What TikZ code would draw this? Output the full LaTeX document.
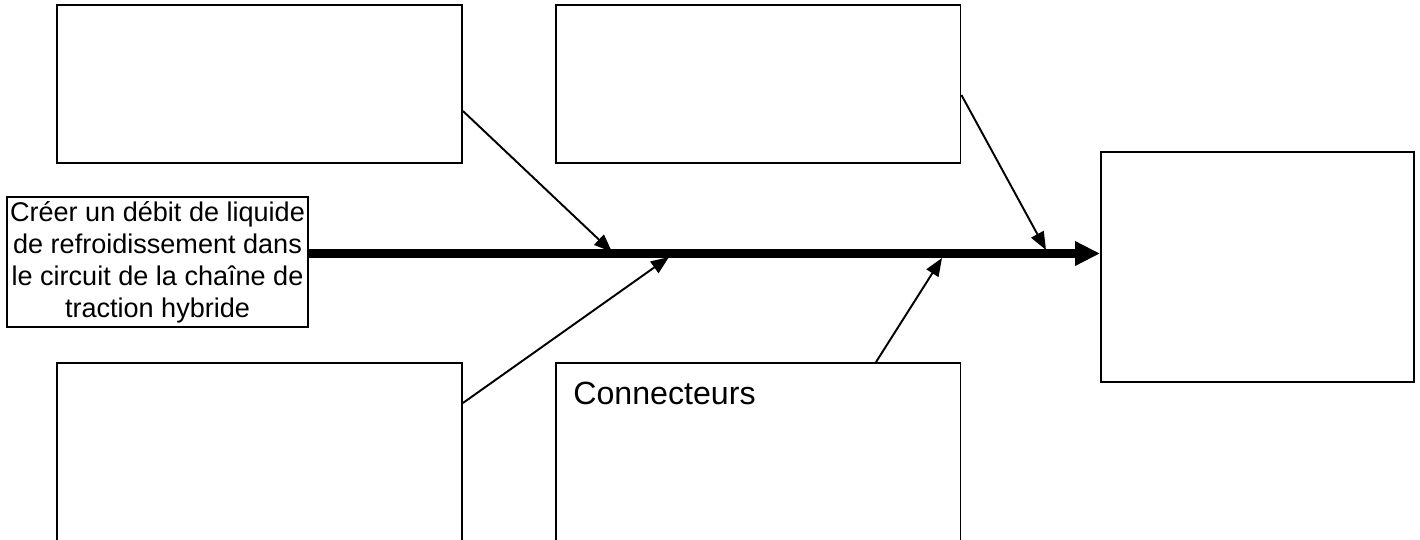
\documentclass[tikz,border=0pt]{standalone}
\usepackage{fontspec}
\setmainfont{Liberation Sans}
\usetikzlibrary{arrows.meta}

\begin{document}
\begin{tikzpicture}[x=0.02cm,y=-0.02cm,
  cause/.style={draw,line width=1.1pt,minimum width=8.1cm,minimum height=3.16cm,inner sep=0pt},
  feed/.style={line width=1.1pt,-{Triangle[length=0.36cm,width=0.28cm]}}]
\clip (0,0) rectangle (1420,540);
% boxes
\node[cause] (tl) at (259.5,84) {};
\node[cause] (tm) at (758,84) {};
\node[cause,minimum height=5.14cm] (bl) at (259.5,491.5) {};
\node[cause,minimum height=5.14cm] (bm) at (758,491.5) {};
\node[draw,line width=1.1pt,minimum width=6.26cm,minimum height=4.6cm] (eff) at (1257.5,267) {};
\node[draw,line width=1.1pt,minimum width=6.02cm,minimum height=2.6cm,inner sep=0pt,
  align=center,font=\fontsize{15.4}{18.2}\selectfont] (goal) at (157.5,262)
  {Créer un débit de liquide\\de refroidissement dans\\le circuit de la chaîne de\\traction hybride};
\node[anchor=base west,inner sep=0pt,font=\fontsize{18.3}{21}\selectfont] (conn) at (573,405) {Connecteurs};
% spine
\coordinate (s) at (0,253.5);
\draw[line width=4.6pt,-{Triangle[length=0.5cm,width=0.46cm]}] (goal.east |- s) -- (eff.west |- s);
% branches
\coordinate (t1) at (612,252);
\coordinate (t2) at (669,257);
\coordinate (t3) at (1046,250);
\coordinate (t4) at (942,258);
\draw[feed] (tl.east |- 0,111) -- (t1);
\draw[feed] (bl.east |- 0,403) -- (t2);
\draw[feed] (tm.east |- 0,95) -- (t3);
\draw[feed] (bm.north -| 876,0) -- (t4);
\end{tikzpicture}
\end{document}
